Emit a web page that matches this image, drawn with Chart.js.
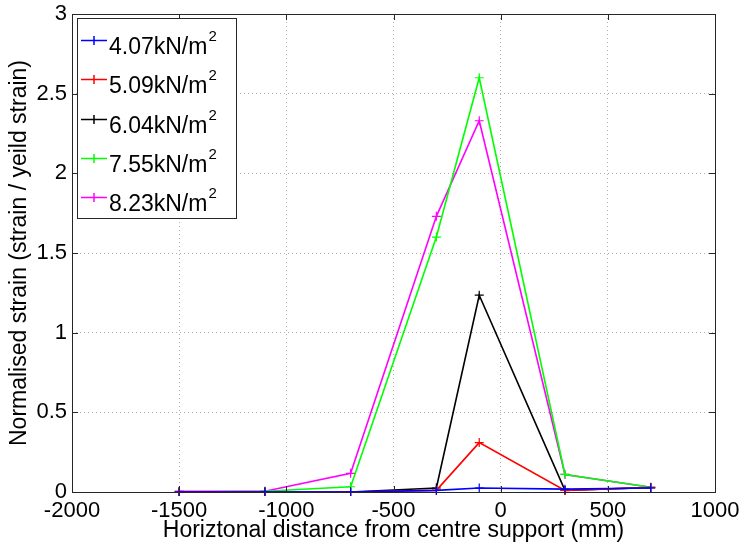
<!DOCTYPE html>
<html>
<head>
<meta charset="utf-8">
<script src="https://cdn.jsdelivr.net/npm/chart.js@4"></script>
<style>
  html, body { margin: 0; padding: 0; background: #fff; }
  #wrap { width: 740px; height: 546px; }
</style>
</head>
<body>
<div id="wrap"><canvas id="strainChart" width="740" height="546"></canvas></div>
<script>
// Distance from centre support (mm)
const distances = [-1500, -1100, -700, -300, -100, 300, 700];

// Normalised strain for each load case
const load407 = [0, 0, 0, 0.01, 0.025, 0.018, 0.025];
const load509 = [0, 0, 0, 0.01, 0.31, 0.01, 0.028];
const load604 = [0, 0, 0, 0.025, 1.235, 0.01, 0.028];
const load755 = [0, 0.005, 0.033, 1.6, 2.6, 0.11, 0.03];
const load823 = [0.005, 0.005, 0.117, 1.73, 2.33, 0.11, 0.03];

const loadLabels = ['4.07kN/m', '5.09kN/m', '6.04kN/m', '7.55kN/m', '8.23kN/m'];
const loadColors = ['#0000ff', '#ff0000', '#000000', '#00ff00', '#ff00ff'];
const loadSeries = [load407, load509, load604, load755, load823];

const xTicks = [-2000, -1500, -1000, -500, 0, 500, 1000];
const yTicks = [0, 0.5, 1, 1.5, 2, 2.5, 3];

const FONT = "'Liberation Sans', Arial, sans-serif";

function toPoints(values) {
    return values.map((v, i) => ({ x: distances[i], y: v }));
}

// Box round the axes with inward ticks on every side
const framePlugin = {
    id: 'frame',
    afterDatasetsDraw(chart) {
        const { ctx, chartArea: a, scales } = chart;
        ctx.save();
        ctx.strokeStyle = '#262626';
        ctx.lineWidth = 1;
        ctx.strokeRect(a.left + 0.5, a.top + 0.5, a.right - a.left, a.bottom - a.top);
        ctx.beginPath();
        xTicks.forEach(t => {
            const px = Math.round(scales.x.getPixelForValue(t)) + 0.5;
            ctx.moveTo(px, a.bottom); ctx.lineTo(px, a.bottom - 6);
            ctx.moveTo(px, a.top); ctx.lineTo(px, a.top + 6);
        });
        yTicks.forEach(t => {
            const py = Math.round(scales.y.getPixelForValue(t)) + 0.5;
            ctx.moveTo(a.left, py); ctx.lineTo(a.left + 6, py);
            ctx.moveTo(a.right, py); ctx.lineTo(a.right - 6, py);
        });
        ctx.stroke();
        ctx.restore();
    }
};

// Legend box with m² written as a superscript
const legendPlugin = {
    id: 'boxLegend',
    afterDraw(chart) {
        const ctx = chart.ctx;
        const left = 77, top = 18, right = 236, bottom = 218;
        ctx.save();
        ctx.fillStyle = '#fff';
        ctx.fillRect(left, top, right - left, bottom - top);
        ctx.strokeStyle = '#262626';
        ctx.lineWidth = 1;
        ctx.strokeRect(left + 0.5, top + 0.5, right - left, bottom - top);
        loadLabels.forEach((label, i) => {
            const y = Math.round(40 + i * 39.25) + 0.5;
            ctx.strokeStyle = loadColors[i];
            ctx.lineWidth = 1.5;
            ctx.beginPath();
            ctx.moveTo(81, y); ctx.lineTo(107, y);
            ctx.moveTo(94, y - 4.5); ctx.lineTo(94, y + 4.5);
            ctx.stroke();
            ctx.fillStyle = '#000';
            ctx.textBaseline = 'alphabetic';
            ctx.textAlign = 'left';
            ctx.font = '23px ' + FONT;
            ctx.fillText(label, 109, y + 13);
            const w = ctx.measureText(label).width;
            ctx.font = '15px ' + FONT;
            ctx.fillText('2', 109 + w + 1, y);
        });
        ctx.restore();
    }
};

new Chart(document.getElementById('strainChart'), {
    type: 'line',
    data: {
        datasets: loadSeries.map((values, i) => ({
            label: loadLabels[i],
            data: toPoints(values),
            borderColor: loadColors[i],
            backgroundColor: loadColors[i],
            borderWidth: 1.6,
            pointStyle: 'cross',
            pointRadius: 4.5,
            pointBorderWidth: 1.2,
            tension: 0,
            clip: 4
        }))
    },
    options: {
        responsive: false,
        animation: false,
        layout: { padding: { top: 14, right: 25, left: 0, bottom: 0 } },
        plugins: { legend: { display: false }, tooltip: { enabled: false } },
        scales: {
            x: {
                type: 'linear',
                min: -2000,
                max: 1000,
                afterBuildTicks: s => { s.ticks = xTicks.map(v => ({ value: v })); },
                afterFit: s => { s.height = 54; s.paddingLeft = 0; s.paddingRight = 0; },
                ticks: {
                    color: '#000',
                    font: { family: FONT, size: 22 },
                    padding: 6,
                    maxRotation: 0,
                    callback: v => String(v)
                },
                grid: { color: '#b0b0b0', lineWidth: 1, drawTicks: false },
                border: { display: false, dash: [1, 3] },
                title: {
                    display: true,
                    text: 'Horiztonal distance from centre support (mm)',
                    color: '#000',
                    font: { family: FONT, size: 23 },
                    padding: { top: 0, bottom: 2 }
                }
            },
            y: {
                min: 0,
                max: 3,
                afterBuildTicks: s => { s.ticks = yTicks.map(v => ({ value: v })); },
                afterFit: s => { s.width = 72; s.paddingTop = 0; s.paddingBottom = 0; },
                ticks: {
                    color: '#000',
                    font: { family: FONT, size: 22 },
                    padding: 5,
                    callback: v => String(v)
                },
                grid: { color: '#b0b0b0', lineWidth: 1, drawTicks: false },
                border: { display: false, dash: [1, 3] },
                title: {
                    display: true,
                    text: 'Normalised strain (strain / yeild strain)',
                    color: '#000',
                    font: { family: FONT, size: 23 },
                    padding: { top: 6, bottom: 0 }
                }
            }
        }
    },
    plugins: [framePlugin, legendPlugin]
});
</script>
</body>
</html>
